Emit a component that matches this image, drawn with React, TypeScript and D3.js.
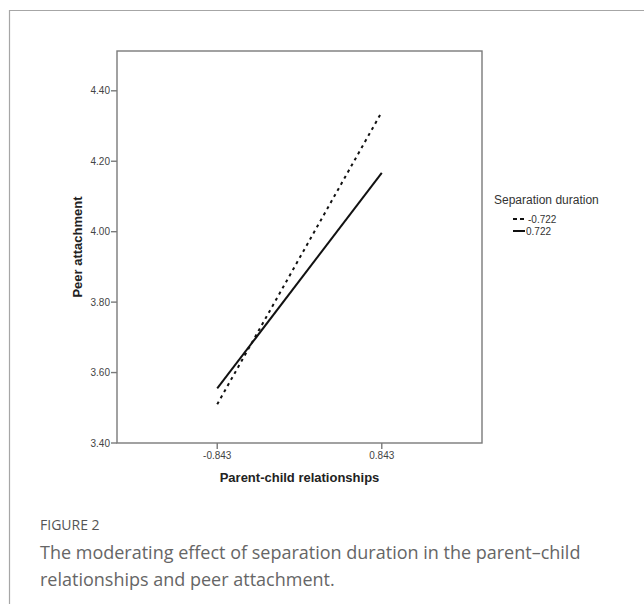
import React, { useRef, useEffect } from 'react';
import * as d3 from 'd3';

// x positions (parent-child relationships, centred values)
const xCategories = [-0.843, 0.843];
const xTickLabels = ['-0.843', '0.843'];

// simple slopes for each level of separation duration
const seriesNames = ['-0.722', '0.722'];
const lowDuration = [3.51, 4.34];   // dashed
const highDuration = [3.555, 4.167]; // solid

const yTicks = [3.4, 3.6, 3.8, 4.0, 4.2, 4.4];

const captionTitle = 'FIGURE 2';
const captionLines = [
  'The moderating effect of separation duration in the parent\u2013child',
  'relationships and peer attachment.',
];

export default function App() {
  const svgRef = useRef<SVGSVGElement>(null);

  useEffect(() => {
    if (!svgRef.current) return;
    const W = 644;
    const H = 604;
    const svg = d3.select(svgRef.current);
    svg.selectAll('*').remove();
    svg.attr('width', W).attr('height', H);

    const font = "Arial, 'Liberation Sans', sans-serif";
    const frame = { left: 117, right: 482, top: 51, bottom: 443 };

    const x = d3.scaleLinear().domain([-1.87, 1.87]).range([frame.left, frame.right]);
    const y = d3.scaleLinear().domain([3.4, 4.513]).range([frame.bottom, frame.top]);

    // outer page frame
    svg.append('path')
      .attr('d', `M9.5,${H} V10.5 H${W}`)
      .attr('fill', 'none')
      .attr('stroke', '#a6a6a6')
      .attr('stroke-width', 1.2);

    // plot frame
    svg.append('rect')
      .attr('x', frame.left)
      .attr('y', frame.top)
      .attr('width', frame.right - frame.left)
      .attr('height', frame.bottom - frame.top)
      .attr('fill', 'none')
      .attr('stroke', '#7a7a7a')
      .attr('stroke-width', 1.4);

    // y ticks
    yTicks.forEach((t) => {
      svg.append('line')
        .attr('x1', frame.left - 6).attr('x2', frame.left)
        .attr('y1', y(t)).attr('y2', y(t))
        .attr('stroke', '#7a7a7a').attr('stroke-width', 1.4);
      svg.append('text')
        .attr('x', frame.left - 7)
        .attr('y', y(t))
        .attr('dy', '0.35em')
        .attr('text-anchor', 'end')
        .attr('font-family', font)
        .attr('font-size', 10)
        .attr('fill', '#444')
        .text(t.toFixed(2));
    });

    // x ticks
    xCategories.forEach((c, i) => {
      svg.append('line')
        .attr('x1', x(c)).attr('x2', x(c))
        .attr('y1', frame.bottom).attr('y2', frame.bottom + 6)
        .attr('stroke', '#7a7a7a').attr('stroke-width', 1.4);
      svg.append('text')
        .attr('x', x(c))
        .attr('y', frame.bottom + 12)
        .attr('dy', '0.35em')
        .attr('text-anchor', 'middle')
        .attr('font-family', font)
        .attr('font-size', 10)
        .attr('fill', '#444')
        .text(xTickLabels[i]);
    });

    // axis titles
    svg.append('text')
      .attr('x', (frame.left + frame.right) / 2)
      .attr('y', frame.bottom + 34)
      .attr('dy', '0.35em')
      .attr('text-anchor', 'middle')
      .attr('font-family', font)
      .attr('font-size', 13)
      .attr('font-weight', 'bold')
      .attr('fill', '#222')
      .text('Parent-child relationships');

    svg.append('text')
      .attr('transform', `translate(77,${(frame.top + frame.bottom) / 2}) rotate(-90)`)
      .attr('dy', '0.35em')
      .attr('text-anchor', 'middle')
      .attr('font-family', font)
      .attr('font-size', 13)
      .attr('font-weight', 'bold')
      .attr('fill', '#222')
      .text('Peer attachment');

    // lines
    const line = d3.line<number>()
      .x((_, i) => x(xCategories[i]))
      .y((d) => y(d));

    svg.append('path')
      .datum(lowDuration)
      .attr('d', line)
      .attr('fill', 'none')
      .attr('stroke', '#111')
      .attr('stroke-width', 2)
      .attr('stroke-dasharray', '3,4');

    svg.append('path')
      .datum(highDuration)
      .attr('d', line)
      .attr('fill', 'none')
      .attr('stroke', '#111')
      .attr('stroke-width', 2);

    // legend
    const lg = svg.append('g').attr('transform', 'translate(494,200)');
    lg.append('text')
      .attr('x', 0).attr('y', 0).attr('dy', '0.35em')
      .attr('font-family', font).attr('font-size', 12).attr('fill', '#333')
      .text('Separation duration');
    seriesNames.forEach((name, i) => {
      const yy = 19 + i * 12;
      lg.append('line')
        .attr('x1', 19).attr('x2', 31)
        .attr('y1', yy).attr('y2', yy)
        .attr('stroke', '#111').attr('stroke-width', 2)
        .attr('stroke-dasharray', i === 0 ? '4,3' : null);
      lg.append('text')
        .attr('x', i === 0 ? 34 : 32).attr('y', yy).attr('dy', '0.35em')
        .attr('font-family', font).attr('font-size', 10).attr('fill', '#333')
        .text(name);
    });

    // caption
    const capFont = "'Open Sans', 'Noto Sans', sans-serif";
    svg.append('text')
      .attr('x', 40).attr('y', 525).attr('dy', '0.35em')
      .attr('font-family', capFont).attr('font-size', 14)
      .attr('fill', '#555')
      .text(captionTitle);
    captionLines.forEach((l, i) => {
      svg.append('text')
        .attr('x', 40).attr('y', 553 + i * 27).attr('dy', '0.35em')
        .attr('font-family', capFont).attr('font-size', 18)
        .attr('fill', '#666')
        .text(l);
    });
  }, []);

  return (
    <div style={{ position: 'absolute', left: 0, top: 0, width: 644, height: 604, background: '#fff' }}>
      <svg ref={svgRef} style={{ display: 'block' }} />
    </div>
  );
}
